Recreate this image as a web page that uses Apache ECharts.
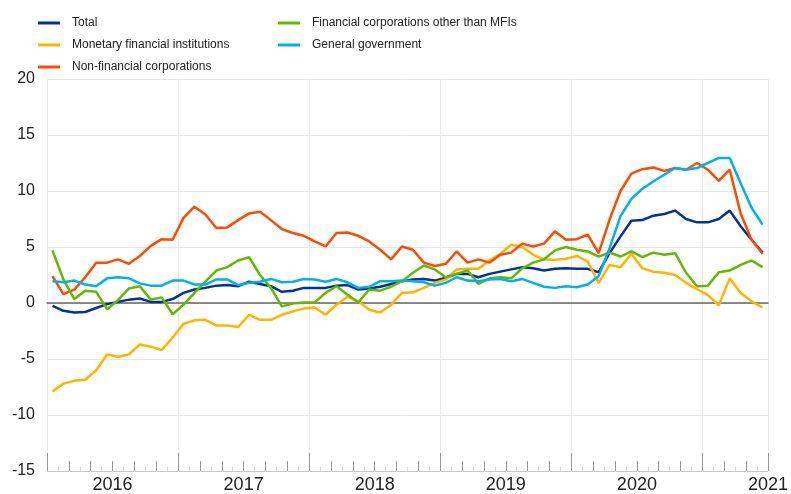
<!DOCTYPE html>
<html>
<head>
<meta charset="utf-8">
<script src="https://cdn.jsdelivr.net/npm/echarts@6/dist/echarts.min.js"></script>
<style>
  html, body { margin: 0; padding: 0; background: #fff; }
  #chart { width: 791px; height: 494px; }
</style>
</head>
<body>
<div id="chart"></div>
<script>
// monthly data, Jan 2016 - Jun 2021
const years = ['2016', '2017', '2018', '2019', '2020', '2021']
const seriesNames = ['Total', 'Monetary financial institutions', 'Non-financial corporations',
  'Financial corporations other than MFIs', 'General government']

const total = [
  -0.25, -0.7, -0.85, -0.8, -0.45, -0.1, 0.1, 0.3, 0.4, 0.1, 0.1, 0.35,
  0.9, 1.2, 1.35, 1.55, 1.6, 1.5, 1.9, 1.7, 1.5, 1.0, 1.1, 1.35,
  1.35, 1.35, 1.55, 1.6, 1.2, 1.3, 1.45, 1.7, 1.95, 2.1, 2.15, 2.0,
  2.25, 2.6, 2.6, 2.3, 2.6, 2.8, 3.0, 3.2, 3.1, 2.9, 3.05, 3.1,
  3.05, 3.05, 2.75, 4.45, 5.95, 7.35, 7.4, 7.8, 7.95, 8.25, 7.5, 7.2,
  7.2, 7.5, 8.25, 6.85, 5.65, 4.5
]
const mfi = [
  -7.9, -7.2, -6.95, -6.85, -6.0, -4.6, -4.8, -4.6, -3.7, -3.9, -4.2, -3.1,
  -1.85, -1.55, -1.5, -2.0, -2.0, -2.15, -1.05, -1.5, -1.5, -1.05, -0.75, -0.5,
  -0.4, -1.05, -0.15, 0.55, 0.15, -0.6, -0.85, -0.15, 0.9, 0.95, 1.35, 1.8,
  2.1, 3.0, 3.05, 3.05, 3.8, 4.4, 5.2, 5.0, 4.3, 3.9, 3.85, 3.95,
  4.2, 3.7, 1.8, 3.4, 3.2, 4.4, 3.1, 2.8, 2.7, 2.5, 1.8, 1.25,
  0.7, -0.2, 2.2, 0.9, 0.15, -0.4
]
const nfc = [
  2.4, 0.8, 1.2, 2.3, 3.6, 3.6, 3.9, 3.5, 4.2, 5.1, 5.7, 5.65,
  7.6, 8.6, 7.9, 6.7, 6.75, 7.4, 8.0, 8.15, 7.4, 6.6, 6.25, 6.0,
  5.5, 5.05, 6.25, 6.3, 6.0, 5.5, 4.75, 3.9, 5.05, 4.75, 3.6, 3.3,
  3.5, 4.6, 3.6, 3.9, 3.6, 4.3, 4.5, 5.3, 5.05, 5.3, 6.4, 5.65,
  5.7, 6.1, 4.45, 7.45, 10.0, 11.55, 11.95, 12.1, 11.8, 12.05, 11.9, 12.5,
  11.9, 10.9, 11.9, 8.0, 5.65, 4.4
]
const ofc = [
  4.7, 2.1, 0.35, 1.1, 1.0, -0.55, 0.25, 1.3, 1.5, 0.3, 0.5, -1.0,
  -0.15, 0.9, 1.9, 2.9, 3.2, 3.8, 4.1, 2.5, 1.35, -0.3, -0.05, 0.05,
  0.05, 0.9, 1.5, 0.75, 0.05, 1.2, 1.1, 1.45, 1.95, 2.7, 3.35, 3.0,
  2.3, 2.6, 2.9, 1.7, 2.2, 2.3, 2.2, 3.1, 3.6, 3.9, 4.7, 5.0,
  4.75, 4.6, 4.15, 4.5, 4.15, 4.6, 4.1, 4.5, 4.3, 4.45, 2.7, 1.5,
  1.55, 2.75, 2.9, 3.4, 3.8, 3.2
]
const govt = [
  1.95, 1.85, 2.0, 1.65, 1.5, 2.2, 2.3, 2.2, 1.75, 1.55, 1.55, 2.0,
  2.0, 1.65, 1.65, 2.1, 2.1, 1.6, 1.8, 1.9, 2.15, 1.85, 1.9, 2.15,
  2.1, 1.9, 2.15, 1.85, 1.35, 1.45, 1.95, 1.95, 2.0, 1.95, 1.85, 1.55,
  1.8, 2.3, 2.0, 1.95, 2.1, 2.15, 1.95, 2.15, 1.8, 1.45, 1.35, 1.5,
  1.4, 1.65, 2.4, 4.9, 7.75, 9.3, 10.2, 10.85, 11.45, 12.05, 11.9, 12.05,
  12.5, 12.95, 12.95, 10.7, 8.5, 7.0
]
const colors = ['#003299', '#ffb400', '#ff4b00', '#65b800', '#00b1ea']

let chartDom = document.getElementById('chart')
let myChart = echarts.init(chartDom, null, { renderer: 'canvas' })

// points sit in the middle of each month
function toPoints(arr) {
  return arr.map((v, i) => [i + 0.5, v])
}

const nMonths = total.length
const textFont = 'Liberation Sans, Arial, sans-serif'

const legendBase = {
  orient: 'vertical',
  top: 10,
  icon: 'rect',
  itemWidth: 22,
  itemHeight: 3,
  itemGap: 6,
  selectedMode: false,
  textStyle: { fontFamily: textFont, fontSize: 12, color: '#222', lineHeight: 16, padding: [0, 0, 0, 7] }
}

let option = {
  animation: false,
  color: colors,
  legend: [
    Object.assign({}, legendBase, { left: 33, data: seriesNames.slice(0, 3) }),
    Object.assign({}, legendBase, { left: 273, data: seriesNames.slice(3) })
  ],
  grid: { left: 47, right: 18, top: 79, bottom: 23, containLabel: false },
  xAxis: [
    {
      // two-monthly ticks plus monthly minor ticks
      type: 'value', position: 'bottom', min: 0, max: nMonths, interval: 2,
      axisLine: { show: true, onZero: false, lineStyle: { color: '#c8c8c8' } },
      axisTick: { show: true, inside: true, length: 10, lineStyle: { color: '#999' } },
      minorTick: { show: true, splitNumber: 2, length: 4, lineStyle: { color: '#ddd' } },
      axisLabel: { show: false },
      splitLine: { show: false }
    },
    {
      // year boundaries
      type: 'value', position: 'bottom', min: 0, max: nMonths, interval: 12,
      axisLine: { show: false, onZero: false },
      axisTick: { show: true, inside: true, length: 18, lineStyle: { color: '#999' } },
      axisLabel: { show: false },
      splitLine: { show: true, lineStyle: { color: '#ececec' } }
    },
    {
      // year labels in the middle of each year
      type: 'value', position: 'bottom', min: 0, max: nMonths, interval: 6,
      axisLine: { show: false, onZero: false },
      axisTick: { show: false },
      axisLabel: {
        show: true, margin: 5, fontFamily: textFont, fontSize: 18, color: '#222',
        formatter: function (v) {
          return v % 12 === 6 ? years[(v - 6) / 12] : ''
        }
      },
      splitLine: { show: false }
    },
    {
      // zero line
      type: 'value', position: 'bottom', min: 0, max: nMonths,
      axisLine: { show: true, onZero: true, lineStyle: { color: '#666', width: 1.5 } },
      axisTick: { show: false },
      axisLabel: { show: false },
      splitLine: { show: false }
    }
  ],
  yAxis: {
    type: 'value', min: -15, max: 20, interval: 5,
    axisLine: { show: false },
    axisTick: { show: false },
    axisLabel: { margin: 12, fontFamily: textFont, fontSize: 16, color: '#222' },
    splitLine: { show: true, lineStyle: { color: '#e6e6e6' } }
  },
  series: [total, mfi, nfc, ofc, govt].map((arr, k) => ({
    name: seriesNames[k],
    type: 'line',
    xAxisIndex: 0,
    data: toPoints(arr),
    showSymbol: false,
    lineStyle: { width: 2.5, color: colors[k] },
    itemStyle: { color: colors[k] }
  }))
}

option && myChart.setOption(option)
</script>
</body>
</html>
